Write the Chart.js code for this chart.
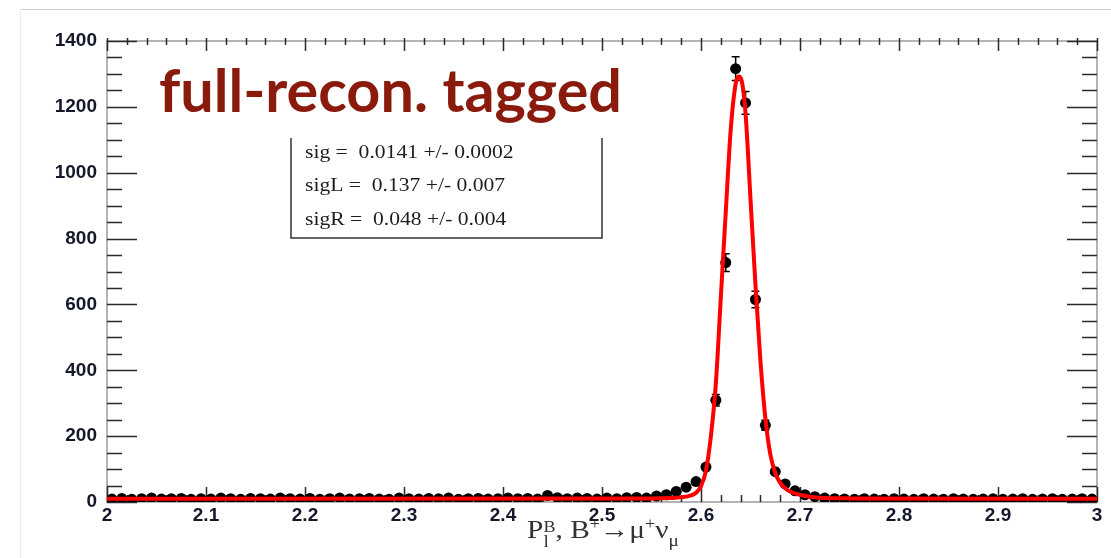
<!DOCTYPE html>
<html>
<head>
<meta charset="utf-8">
<script src="https://cdn.jsdelivr.net/npm/chart.js@4.4.1/dist/chart.umd.min.js"></script>
<style>
  html, body { margin: 0; padding: 0; background: #fff; }
  #wrap { position: relative; width: 1111px; height: 558px; overflow: hidden; }
  #edgeTop { position: absolute; left: 20px; top: 9px; width: 1091px; height: 0; border-top: 1px solid #cfcfcf; }
  #edgeLeft { position: absolute; left: 20px; top: 9px; width: 0; height: 549px; border-left: 1px solid #ececec; }
  canvas { position: absolute; left: 0; top: 0; }
</style>
</head>
<body>
<div id="wrap">
  <div id="edgeTop"></div>
  <div id="edgeLeft"></div>
  <canvas id="c" width="1111" height="558"></canvas>
</div>
<script>
// Histogram: bin centres (width 0.01) and counts per bin
const binCenters = [
  2.005, 2.015, 2.025, 2.035, 2.045, 2.055, 2.065, 2.075, 2.085, 2.095,
  2.105, 2.115, 2.125, 2.135, 2.145, 2.155, 2.165, 2.175, 2.185, 2.195,
  2.205, 2.215, 2.225, 2.235, 2.245, 2.255, 2.265, 2.275, 2.285, 2.295,
  2.305, 2.315, 2.325, 2.335, 2.345, 2.355, 2.365, 2.375, 2.385, 2.395,
  2.405, 2.415, 2.425, 2.435, 2.445, 2.455, 2.465, 2.475, 2.485, 2.495,
  2.505, 2.515, 2.525, 2.535, 2.545, 2.555, 2.565, 2.575, 2.585, 2.595,
  2.605, 2.615, 2.625, 2.635, 2.645, 2.655, 2.665, 2.675, 2.685, 2.695,
  2.705, 2.715, 2.725, 2.735, 2.745, 2.755, 2.765, 2.775, 2.785, 2.795,
  2.805, 2.815, 2.825, 2.835, 2.845, 2.855, 2.865, 2.875, 2.885, 2.895,
  2.905, 2.915, 2.925, 2.935, 2.945, 2.955, 2.965, 2.975, 2.985, 2.995
];
const binCounts = [
  9, 11, 8, 10, 12, 9, 10, 11, 8, 10,
  9, 12, 10, 8, 11, 10, 9, 12, 10, 9,
  11, 8, 10, 12, 9, 10, 11, 9, 8, 12,
  10, 9, 11, 10, 12, 8, 10, 11, 9, 10,
  12, 10, 11, 9, 20, 13, 10, 12, 11, 9,
  12, 10, 13, 14, 12, 18, 22, 32, 45, 62,
  106, 309, 727, 1316, 1212, 615, 233, 92, 55, 34,
  22, 16, 12, 10, 9, 8, 10, 9, 8, 10,
  9, 8, 10, 9, 8, 10, 9, 8, 9, 10,
  8, 9, 10, 8, 9, 10, 8, 9, 10, 9
];
const binHalfWidth = 0.005;

// Fitted curve, sampled along x
const fitX = [2.00, 2.55, 2.57, 2.58, 2.59, 2.595, 2.60, 2.605, 2.61, 2.615, 2.62, 2.625,
              2.63, 2.635, 2.638, 2.641, 2.645, 2.65, 2.655, 2.66, 2.665, 2.67, 2.675,
              2.68, 2.685, 2.69, 2.70, 2.71, 2.72, 2.75, 3.00];
const fitY = [10, 10.5, 12, 14, 20, 28, 48, 95, 200, 360, 620, 880,
              1130, 1270, 1292, 1280, 1180, 920, 660, 430, 255, 145, 88,
              58, 42, 32, 22, 16, 13, 11, 10];

// Axis ticks
const xTickValues = [2, 2.1, 2.2, 2.3, 2.4, 2.5, 2.6, 2.7, 2.8, 2.9, 3];
const xTickLabels = ['2', '2.1', '2.2', '2.3', '2.4', '2.5', '2.6', '2.7', '2.8', '2.9', '3'];
const yTickValues = [0, 200, 400, 600, 800, 1000, 1200, 1400];
const yTickLabels = ['0', '200', '400', '600', '800', '1000', '1200', '1400'];

// Text drawn on the plot
const headline = 'full-recon. tagged';
const fitResults = ['sig =  0.0141 +/- 0.0002', 'sigL =  0.137 +/- 0.007', 'sigR =  0.048 +/- 0.004'];

const histPoints = binCenters.map((x, i) => ({ x: x, y: binCounts[i] }));
const fitPoints = fitX.map((x, i) => ({ x: x, y: fitY[i] }));

const TICK_COLOR = '#2a2a2a';
const FRAME_COLOR = '#b4b4b4';
const SERIF = '"Liberation Serif", "Times New Roman", serif';

// text with a horizontal stretch factor
function stretchedText(ctx, text, x, y, sx) {
  ctx.save();
  ctx.translate(x, y);
  ctx.scale(sx, 1);
  ctx.fillText(text, 0, 0);
  ctx.restore();
}

// formula-like label: parts [{t, size, dy, stack}], stack=true shares x with the next part
function drawRich(ctx, parts, cx, baseY, sx) {
  const widths = parts.map(p => { ctx.font = p.size + 'px ' + SERIF; return ctx.measureText(p.t).width; });
  let w = 0;
  for (let i = 0; i < parts.length; i++) {
    if (parts[i].stack) { w += Math.max(widths[i], widths[i + 1]); i++; }
    else w += widths[i];
  }
  ctx.save();
  ctx.translate(cx - w * sx / 2, baseY);
  ctx.scale(sx, 1);
  ctx.textAlign = 'left';
  ctx.textBaseline = 'alphabetic';
  let x = 0;
  for (let i = 0; i < parts.length; i++) {
    const p = parts[i];
    ctx.font = p.size + 'px ' + SERIF;
    ctx.fillText(p.t, x, p.dy);
    if (p.stack) {
      const q = parts[i + 1];
      ctx.font = q.size + 'px ' + SERIF;
      ctx.fillText(q.t, x, q.dy);
      x += Math.max(widths[i], widths[i + 1]);
      i++;
    } else {
      x += widths[i];
    }
  }
  ctx.restore();
}

const decorations = {
  id: 'decorations',
  beforeDatasetsDraw(chart) {
    const { ctx, chartArea: a, scales: { x, y } } = chart;
    ctx.save();
    // frame
    ctx.strokeStyle = FRAME_COLOR;
    ctx.lineWidth = 2;
    ctx.strokeRect(a.left, a.top, a.right - a.left, a.bottom - a.top);
    // y ticks on both sides, pointing inward
    ctx.strokeStyle = TICK_COLOR;
    ctx.lineWidth = 1.5;
    for (let v = 0; v <= 1400; v += 50) {
      const py = Math.round(y.getPixelForValue(v)) + 0.5;
      const len = (v % 200 === 0) ? 30 : 15;
      ctx.beginPath();
      ctx.moveTo(a.left, py); ctx.lineTo(a.left + len, py);
      ctx.moveTo(a.right, py); ctx.lineTo(a.right - len, py);
      ctx.stroke();
    }
    // x ticks on top and bottom
    for (let k = 0; k <= 50; k++) {
      const v = 2 + k * 0.02;
      const px = Math.round(x.getPixelForValue(v)) + 0.5;
      const major = (k % 5 === 0);
      ctx.beginPath();
      ctx.moveTo(px, a.top - 3); ctx.lineTo(px, a.top + (major ? 10 : 4));
      ctx.moveTo(px, a.bottom); ctx.lineTo(px, a.bottom - (major ? 15 : 7));
      ctx.stroke();
    }
    ctx.restore();
  },
  beforeDatasetDraw(chart, args) {
    if (args.index !== 0) return;
    const { ctx, scales: { x, y } } = chart;
    ctx.save();
    ctx.strokeStyle = '#000';
    ctx.lineWidth = 1.5;
    histPoints.forEach(p => {
      const px = x.getPixelForValue(p.x);
      const py = y.getPixelForValue(p.y);
      const err = Math.sqrt(p.y);
      const pTop = y.getPixelForValue(p.y + err);
      const pBot = y.getPixelForValue(Math.max(0, p.y - err));
      ctx.beginPath();
      ctx.moveTo(px, pTop); ctx.lineTo(px, pBot);
      ctx.moveTo(x.getPixelForValue(p.x - binHalfWidth), py);
      ctx.lineTo(x.getPixelForValue(p.x + binHalfWidth), py);
      if (err > 15) {
        ctx.moveTo(px - 4, pTop); ctx.lineTo(px + 4, pTop);
        ctx.moveTo(px - 4, pBot); ctx.lineTo(px + 4, pBot);
      }
      ctx.stroke();
    });
    ctx.restore();
  },
  afterDraw(chart) {
    const { ctx } = chart;
    ctx.save();
    ctx.textAlign = 'left';
    ctx.textBaseline = 'alphabetic';
    // headline
    ctx.fillStyle = '#8a1a0c';
    ctx.font = 'bold 59px Lato, "Open Sans", sans-serif';
    const hw = ctx.measureText(headline).width;
    stretchedText(ctx, headline, 159, 112, 463 / hw);
    // fit result box (open at the top)
    ctx.strokeStyle = '#333';
    ctx.lineWidth = 1.5;
    ctx.beginPath();
    ctx.moveTo(291, 138); ctx.lineTo(291, 238); ctx.lineTo(602, 238); ctx.lineTo(602, 138);
    ctx.stroke();
    ctx.fillStyle = '#1d1d1d';
    ctx.font = '18px ' + SERIF;
    const bases = [158, 191, 225];
    fitResults.forEach((t, i) => stretchedText(ctx, t, 305, bases[i], 1.2));
    // x axis title
    ctx.fillStyle = '#333';
    drawRich(ctx, [
      { t: 'P', size: 26, dy: 0 },
      { t: 'B', size: 16, dy: -6, stack: true },
      { t: 'l', size: 17, dy: 9 },
      { t: ', B', size: 26, dy: 0 },
      { t: '+', size: 16, dy: -9 },
      { t: '\u2192\u03bc', size: 26, dy: 0 },
      { t: '+', size: 16, dy: -9 },
      { t: '\u03bd', size: 26, dy: 0 },
      { t: '\u03bc', size: 17, dy: 8 }
    ], 603, 538, 1.13);
    ctx.restore();
  }
};

new Chart(document.getElementById('c'), {
  type: 'scatter',
  data: {
    datasets: [
      {
        data: histPoints,
        order: 1,
        showLine: false,
        pointRadius: 5.5,
        pointBackgroundColor: '#000',
        pointBorderColor: '#000',
        pointBorderWidth: 0
      },
      {
        type: 'line',
        data: fitPoints,
        order: 0,
        showLine: true,
        borderColor: '#ff0000',
        borderWidth: 4,
        pointRadius: 0,
        fill: false,
        cubicInterpolationMode: 'monotone'
      }
    ]
  },
  options: {
    responsive: false,
    devicePixelRatio: 1,
    animation: false,
    layout: { padding: { left: 0, top: 41, right: 14, bottom: 0 } },
    plugins: { legend: { display: false }, tooltip: { enabled: false } },
    scales: {
      x: {
        type: 'linear',
        min: 2, max: 3,
        grid: { display: false, drawTicks: false },
        border: { display: false },
        afterFit(s) { s.height = 56; },
        afterBuildTicks(s) { s.ticks = xTickValues.map(v => ({ value: v })); },
        ticks: {
          autoSkip: false, maxRotation: 0, padding: 2,
          color: '#14182a',
          font: { family: '"Liberation Sans", Arial, sans-serif', size: 19, weight: 'bold' },
          callback(v) { const i = xTickValues.findIndex(t => Math.abs(t - v) < 1e-6); return i >= 0 ? xTickLabels[i] : ''; }
        }
      },
      y: {
        min: 0, max: 1400,
        grid: { display: false, drawTicks: false },
        border: { display: false },
        afterFit(s) { s.width = 107; },
        afterBuildTicks(s) { s.ticks = yTickValues.map(v => ({ value: v })); },
        ticks: {
          padding: 10,
          color: '#14182a',
          font: { family: '"Liberation Sans", Arial, sans-serif', size: 19, weight: 'bold' },
          callback(v) { const i = yTickValues.indexOf(v); return i >= 0 ? yTickLabels[i] : ''; }
        }
      }
    }
  },
  plugins: [decorations]
});
</script>
</body>
</html>
